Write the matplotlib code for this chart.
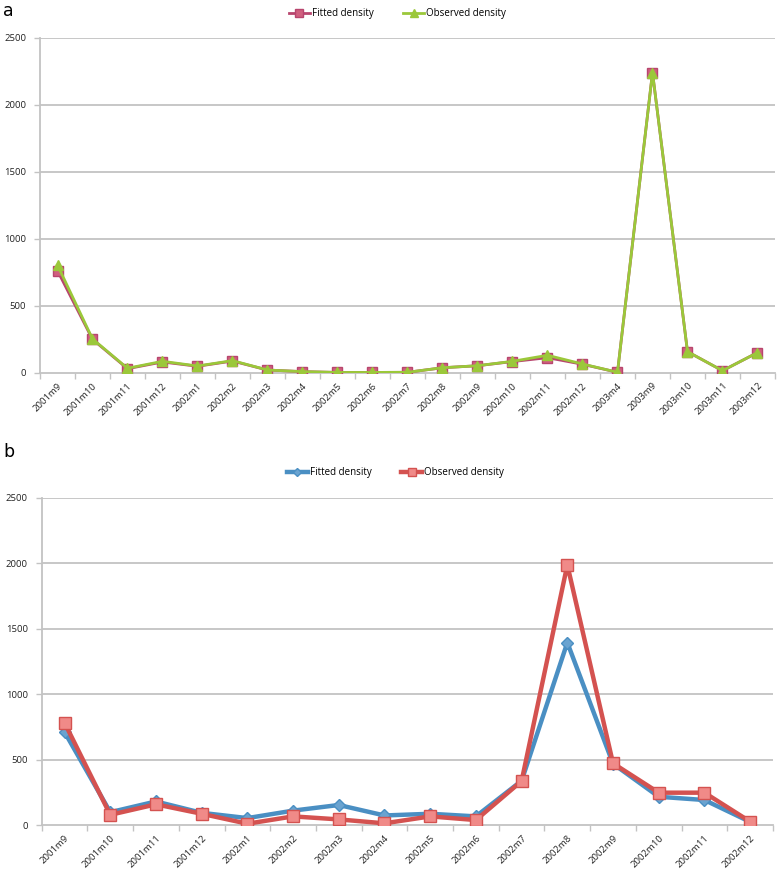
import matplotlib
matplotlib.use("Agg")
import matplotlib.pyplot as plt
import numpy as np

# Panel a data
cats_a = ["2001m9", "2001m10", "2001m11", "2001m12", "2002m1", "2002m2", "2002m3",
          "2002m4", "2002m5", "2002m6", "2002m7", "2002m8", "2002m9", "2002m10",
          "2002m11", "2002m12", "2003m4", "2003m9", "2003m10", "2003m11", "2003m12"]
fitted_a = [761, 249, 30, 80, 48, 87, 20, 8, 2, 2, 3, 37, 52, 83, 112, 63, 3, 2240, 157, 15, 150]
observed_a = [803, 252, 33, 85, 50, 90, 20, 8, 2, 2, 3, 37, 52, 85, 130, 65, 3, 2240, 157, 15, 150]

# Panel b data
cats_b = ["2001m9", "2001m10", "2001m11", "2001m12", "2002m1", "2002m2", "2002m3",
          "2002m4", "2002m5", "2002m6", "2002m7", "2002m8", "2002m9", "2002m10",
          "2002m11", "2002m12"]
fitted_b = [712, 100, 182, 95, 55, 112, 155, 75, 88, 68, 340, 1395, 470, 218, 193, 26]
observed_b = [783, 80, 160, 88, 12, 68, 45, 15, 68, 40, 338, 1988, 473, 249, 249, 28]

yticks = [0, 500, 1000, 1500, 2000, 2500]

fig = plt.figure(figsize=(7.78, 8.77), dpi=100)
W, H = 778, 877

def ax_from_px(l, r, t, b):
    return fig.add_axes([l / W, 1 - b / H, (r - l) / W, (b - t) / H])

grid_c = "#C3C3C3"
tick_font = {"family": "Open Sans", "size": 6.8, "color": "#222222"}

def style(ax, n, cats):
    ax.set_xlim(0, n)
    ax.set_ylim(0, 2500)
    ax.set_yticks(yticks)
    ax.set_yticklabels([str(v) for v in yticks], fontdict=tick_font)
    for y in yticks[1:]:
        ax.axhline(y, color=grid_c, lw=1.3, zorder=0)
    ax.set_xticks(np.arange(n + 1))
    ax.set_xticklabels([])
    ax.set_xticks(np.arange(n) + 0.5, minor=True)
    ax.set_xticklabels(cats, minor=True, rotation=45, ha="right", va="top",
                       rotation_mode="anchor", fontdict=tick_font)
    ax.tick_params(axis="x", which="major", length=4, color=grid_c, width=1)
    ax.tick_params(axis="x", which="minor", length=0, pad=6)
    ax.tick_params(axis="y", length=4, color=grid_c, width=1, pad=6)
    for s in ["top", "right"]:
        ax.spines[s].set_visible(False)
    for s in ["left", "bottom"]:
        ax.spines[s].set_color(grid_c)
        ax.spines[s].set_linewidth(1.3)

# Panel a
ax1 = ax_from_px(40, 775, 37.7, 372.7)
style(ax1, len(cats_a), cats_a)
xa = np.arange(len(cats_a)) + 0.5
ax1.plot(xa, fitted_a, color="#B8456E", lw=2.0, marker="s", ms=6.5,
         mfc="#D0607F", mec="#B8456E", label="Fitted density", zorder=3)
ax1.plot(xa, observed_a, color="#9BC83A", lw=2.0, marker="^", ms=6.5,
         mfc="#9BC83A", mec="#9BC83A", label="Observed density", zorder=4)
ax1.legend(loc="upper center", bbox_to_anchor=(0.5 - 10 / 735, 1.115), ncol=2, frameon=False,
           prop={"family": "Open Sans", "size": 7}, handlelength=2.2, markerscale=0.8,
           columnspacing=3.0, handletextpad=0.2)

# Panel b
ax2 = ax_from_px(41.7, 773, 497.8, 825.3)
style(ax2, len(cats_b), cats_b)
xb = np.arange(len(cats_b)) + 0.5
ax2.plot(xb, fitted_b, color="#4A8FC3", lw=3.2, marker="D", ms=6,
         mfc="#6AA3D0", mec="#4A8FC3", label="Fitted density", zorder=3)
ax2.plot(xb, observed_b, color="#D45250", lw=3.2, marker="s", ms=8.5,
         mfc="#F08A88", mec="#D45250", label="Observed density", zorder=4)
ax2.legend(loc="upper center", bbox_to_anchor=(0.5 - 12 / 731, 1.12), ncol=2, frameon=False,
           prop={"family": "Open Sans", "size": 7}, handlelength=2.2, markerscale=0.7,
           columnspacing=3.0, handletextpad=0.2)

fig.text(3 / W, 1 - 16 / H, "a", fontsize=12.5, family="DejaVu Sans", va="baseline")
fig.text(3 / W, 1 - 457 / H, "b", fontsize=12.5, family="DejaVu Sans", va="baseline")

fig.savefig("out.png", dpi=100)
